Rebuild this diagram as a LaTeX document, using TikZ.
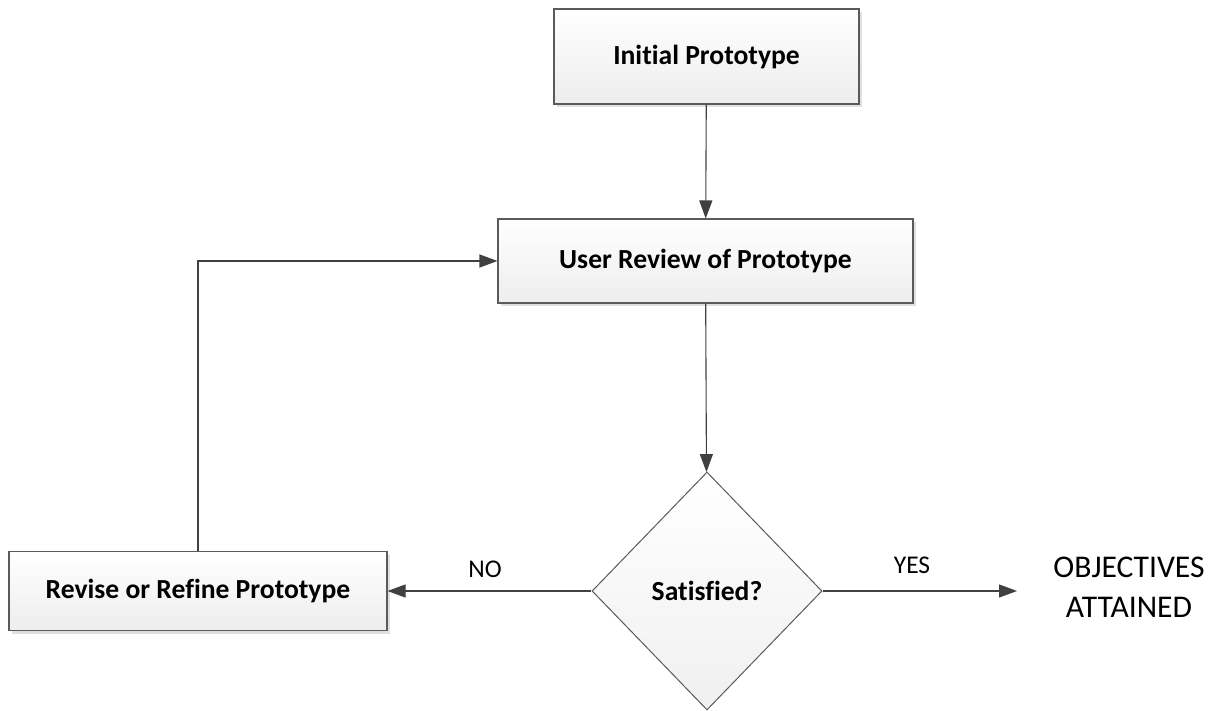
\documentclass[tikz,border=0pt]{standalone}
\usepackage{fontspec}
\setmainfont{Carlito}[Ligatures=NoCommon]
\usetikzlibrary{shapes.geometric,shadows,arrows.meta}
\definecolor{edgegray}{HTML}{404040}
\definecolor{bordergray}{HTML}{5A5A5A}
\definecolor{shadowgray}{HTML}{E0E0E0}
\tikzset{
  procbox/.style={draw=bordergray, line width=1.1pt, top color=white, bottom color=black!7,
    drop shadow={shadow xshift=3pt, shadow yshift=-3pt, fill=shadowgray, opacity=1},
    inner sep=0pt, font=\fontsize{27.6}{33}\selectfont\bfseries},
  decbox/.style={diamond, draw=bordergray, line width=1pt, top color=white, bottom color=black!6,
    inner sep=0pt, font=\fontsize{27.6}{33}\selectfont\bfseries},
  flow/.style={draw=edgegray, line width=1.1pt, -{Triangle[length=18pt,width=13pt]}, fill=none},
  lbl/.style={font=\fontsize{25.5}{30}\selectfont, inner sep=0pt},
}
\begin{document}
\begin{tikzpicture}[x=1pt,y=-1pt]
\useasboundingbox (0,0) rectangle (1216,710);
\node[procbox, minimum width=305pt, minimum height=95pt] (init) at (706.5,56.5) {Initial Prototype};
\node[procbox, minimum width=415pt, minimum height=84pt] (review) at (705.5,261) {User Review of Prototype};
\node[decbox, minimum width=230pt, minimum height=238pt] (sat) at (707,591) {Satisfied?};
\node[procbox, minimum width=378pt, minimum height=79pt] (revise) at (198,591) {Revise or Refine Prototype};
\node[align=center, inner sep=0pt, font=\fontsize{31.6}{40}\selectfont] (obj) at (1129,587) {OBJECTIVES\\ATTAINED};
\coordinate (objin) at (1017,591);
\node[lbl] (no) at (485,569) {NO};
\node[lbl] (yes) at (912,565) {YES};
\draw[flow] (init) -- (review);
\draw[flow] (review) -- (sat);
\draw[flow] (sat) -- (revise);
\draw[flow] (sat) -- (objin);
\draw[flow] (revise.north) |- (review.west);
\end{tikzpicture}
\end{document}
